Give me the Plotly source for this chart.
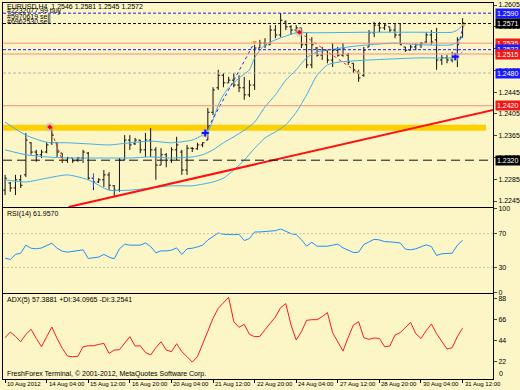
import plotly.graph_objects as go
from plotly.subplots import make_subplots

# ---------------- data ----------------
bar_idx = list(range(89))
opens = [1.2265,1.2278,1.2269,1.2284,1.2293,1.2352,1.2335,1.2330,1.2335,1.2352,
         1.2352,1.2333,1.2320,1.2324,1.2320,1.2324,1.2333,1.2287,1.2280,1.2284,
         1.2293,1.2273,1.2265,1.2320,1.2357,1.2350,1.2357,1.2339,1.2357,1.2339,
         1.2311,1.2330,1.2320,1.2339,1.2335,1.2302,1.2342,1.2341,1.2348,1.2357,
         1.2408,1.2453,1.2476,1.2462,1.2467,1.2458,1.2453,1.2440,1.2458,1.2526,
         1.2535,1.2532,1.2559,1.2550,1.2574,1.2565,1.2559,1.2563,1.2532,1.2495,
         1.2526,1.2513,1.2522,1.2504,1.2522,1.2513,1.2513,1.2498,1.2482,1.2476,
         1.2528,1.2554,1.2568,1.2563,1.2565,1.2559,1.2550,1.2528,1.2522,1.2528,
         1.2532,1.2537,1.2550,1.2541,1.2504,1.2508,1.2504,1.2513,1.2546]
highs = [1.2293,1.2280,1.2293,1.2293,1.2370,1.2353,1.2339,1.2339,1.2353,1.2381,
         1.2353,1.2333,1.2326,1.2324,1.2326,1.2339,1.2335,1.2287,1.2287,1.2302,
         1.2298,1.2274,1.2324,1.2366,1.2366,1.2361,1.2357,1.2370,1.2379,1.2344,
         1.2342,1.2333,1.2344,1.2363,1.2339,1.2348,1.2344,1.2352,1.2353,1.2416,
         1.2454,1.2486,1.2480,1.2473,1.2480,1.2476,1.2473,1.2467,1.2532,1.2541,
         1.2544,1.2568,1.2568,1.2590,1.2577,1.2568,1.2568,1.2563,1.2554,1.2546,
         1.2528,1.2528,1.2522,1.2535,1.2528,1.2535,1.2517,1.2498,1.2486,1.2528,
         1.2559,1.2574,1.2574,1.2572,1.2565,1.2572,1.2572,1.2528,1.2532,1.2535,
         1.2537,1.2555,1.2559,1.2563,1.2513,1.2513,1.2519,1.2546,1.2581]
lows = [1.2256,1.2262,1.2256,1.2269,1.2289,1.2330,1.2317,1.2324,1.2333,1.2348,
        1.2326,1.2315,1.2315,1.2315,1.2317,1.2315,1.2284,1.2265,1.2278,1.2271,
        1.2265,1.2252,1.2262,1.2320,1.2339,1.2348,1.2333,1.2326,1.2326,1.2284,
        1.2311,1.2307,1.2315,1.2320,1.2293,1.2293,1.2335,1.2339,1.2344,1.2357,
        1.2403,1.2449,1.2454,1.2462,1.2454,1.2445,1.2431,1.2436,1.2449,1.2526,
        1.2526,1.2532,1.2544,1.2546,1.2559,1.2550,1.2554,1.2526,1.2489,1.2489,
        1.2510,1.2504,1.2498,1.2491,1.2510,1.2510,1.2495,1.2480,1.2464,1.2473,
        1.2528,1.2546,1.2555,1.2559,1.2555,1.2544,1.2532,1.2519,1.2522,1.2522,
        1.2526,1.2535,1.2532,1.2486,1.2495,1.2498,1.2500,1.2491,1.2545]
closes = [1.2287,1.2269,1.2284,1.2274,1.2357,1.2335,1.2330,1.2335,1.2348,1.2366,
          1.2335,1.2320,1.2324,1.2319,1.2324,1.2335,1.2287,1.2280,1.2284,1.2293,
          1.2274,1.2265,1.2320,1.2357,1.2348,1.2357,1.2339,1.2357,1.2339,1.2311,
          1.2330,1.2320,1.2339,1.2348,1.2302,1.2342,1.2341,1.2348,1.2352,1.2408,
          1.2449,1.2476,1.2462,1.2467,1.2458,1.2453,1.2440,1.2458,1.2526,1.2535,
          1.2532,1.2559,1.2550,1.2577,1.2565,1.2559,1.2563,1.2532,1.2495,1.2532,
          1.2513,1.2522,1.2504,1.2522,1.2513,1.2526,1.2500,1.2486,1.2471,1.2522,
          1.2554,1.2568,1.2563,1.2568,1.2559,1.2550,1.2532,1.2522,1.2528,1.2532,
          1.2535,1.2550,1.2537,1.2504,1.2508,1.2504,1.2513,1.2541,1.2572]

bb_up_idx = [0,4,8,12,16,20,24,28,32,36,38,39,40,41,42,43,44,45,46,47,48,49,50,52,54,56,60,70,80,86,87,88]
bb_upper = [1.2390,1.2366,1.2353,1.2352,1.2350,1.2348,1.2352,1.2355,1.2352,1.2357,1.2366,1.2372,
            1.2394,1.2421,1.2440,1.2453,1.2462,1.2471,1.2478,1.2486,1.2508,1.2522,1.2532,1.2541,
            1.2548,1.2554,1.2554,1.2555,1.2555,1.2555,1.2559,1.2568]
bb_mid_idx = [0,4,8,12,16,20,24,28,32,36,38,40,42,44,46,48,50,52,54,56,58,60,62,66,70,75,80,86,87,88]
bb_middle = [1.2339,1.2330,1.2326,1.2324,1.2324,1.2324,1.2324,1.2326,1.2324,1.2326,1.2330,1.2339,
             1.2352,1.2363,1.2375,1.2390,1.2418,1.2440,1.2467,1.2486,1.2508,1.2519,1.2522,1.2528,
             1.2532,1.2535,1.2532,1.2532,1.2537,1.2546]
bb_low_idx = [0,4,8,12,16,20,24,28,32,36,38,40,42,44,46,48,50,52,54,56,58,60,62,64,70,80,86,87,88]
bb_lower = [1.2284,1.2280,1.2287,1.2293,1.2284,1.2265,1.2265,1.2269,1.2273,1.2273,1.2276,1.2280,
            1.2287,1.2302,1.2320,1.2342,1.2361,1.2372,1.2385,1.2408,1.2440,1.2476,1.2495,1.2500,
            1.2504,1.2508,1.2508,1.2511,1.2519]

rsi = [41.0,39.4,45.3,46.9,56.3,52.7,52.0,53.0,55.9,58.6,
       52.7,49.2,48.0,49.2,50.0,50.8,40.6,41.0,42.2,45.3,
       42.2,40.2,52.0,57.5,56.3,56.3,56.3,59.0,54.7,47.3,
       49.6,49.6,50.4,53.1,45.3,52.0,52.7,54.3,56.3,62.5,
       66.5,70.8,69.2,68.8,68.8,69.2,61.8,64.1,72.0,72.0,
       72.7,73.5,73.5,75.5,72.7,70.0,68.8,62.9,55.1,59.8,
       55.1,54.7,55.1,56.3,57.5,53.1,50.0,47.6,48.0,57.1,
       60.2,63.3,62.5,60.6,60.2,59.8,59.0,51.6,50.8,52.0,
       53.9,56.7,54.7,44.1,46.1,46.1,46.9,56.3,61.957]
adx = [47.4,53.4,48.8,43.2,50.9,56.2,46.7,38.0,48.5,58.6,
       46.7,36.3,28.2,27.5,27.9,38.0,39.0,39.0,40.4,41.5,
       31.0,34.5,34.9,42.2,48.5,38.7,39.0,32.0,29.3,37.0,
       43.2,34.5,32.8,41.1,32.8,27.5,21.9,27.5,41.5,55.5,
       67.7,78.2,84.2,89.7,64.2,58.3,61.4,50.9,48.5,48.8,
       55.8,62.8,69.1,78.9,83.1,60.7,45.0,53.7,65.6,66.3,
       66.3,69.5,73.7,52.7,43.2,33.5,47.8,60.7,64.2,47.4,
       45.7,47.1,46.7,38.0,38.7,50.2,52.7,57.9,63.5,51.6,
       46.7,54.8,61.8,51.6,43.2,35.6,37.0,48.5,57.388]

date_tick_idx = [0, 8, 16, 24, 32, 40, 48, 56, 64, 72, 80, 88]
date_tick_text = ["10 Aug 2012", "14 Aug 04:00", "15 Aug 12:00", "16 Aug 20:00",
                  "20 Aug 04:00", "21 Aug 12:00", "22 Aug 20:00", "24 Aug 04:00",
                  "27 Aug 12:00", "28 Aug 20:00", "30 Aug 04:00", "31 Aug 12:00"]
price_ticks = [1.2605, 1.2565, 1.2525, 1.2485, 1.2445, 1.2405, 1.2365, 1.2325, 1.2285, 1.2245]
rsi_ticks = [0, 30, 70, 100]
adx_ticks = [22, 44, 66, 88]

buy_order_price = 1.2590
buy_order_label = "#2232077.99 buy"
sell_order_price = 1.2571
sell_order_labels = ["#5970619 sell", "#6962530 sell"]
resistance_prices = [1.2535, 1.2515, 1.2420]
blue_level = 1.2523
grey_level = 1.2480
support_level = 1.2320
zone_low, zone_high, zone_end_idx = 1.2374, 1.2385, 92.5
trend_idx = [12.2, 94.6]
trend_price = [1.2234, 1.2414]

trades_sell = [([8.6, 11.0], [1.2381, 1.2320]), ([56.6, 68.0], [1.2555, 1.2480])]
trades_buy = [([38.5, 48.0], [1.2370, 1.2537]), ([86.6, 88.2], [1.2510, 1.2568])]
pending_mark_idx = [17.0, 17.0]
pending_mark_price = [1.2296, 1.2270]

header = "EURUSD,H4  1.2546 1.2581 1.2545 1.2572"
rsi_title = "RSI(14) 61.9570"
adx_title = "ADX(5) 57.3881 +DI:34.0965 -DI:3.2541"
copyright_text = "FreshForex Terminal, \u00a9 2001-2012, MetaQuotes Software Corp."

# ---------------- figure ----------------
BG = "#fcf5c6"
FONT = "Liberation Sans, Arial, sans-serif"
fig = make_subplots(rows=3, cols=1, shared_xaxes=True, vertical_spacing=0.0)

fig.add_trace(go.Ohlc(x=bar_idx, open=opens, high=highs, low=lows, close=closes,
                      increasing=dict(line=dict(color="#111111", width=1)),
                      decreasing=dict(line=dict(color="#111111", width=1)),
                      tickwidth=0.35, showlegend=False, hoverinfo="skip"), row=1, col=1)

band_col = "#3cb0ee"
for xs, ys in [(bb_up_idx, bb_upper), (bb_mid_idx, bb_middle), (bb_low_idx, bb_lower)]:
    fig.add_trace(go.Scatter(x=xs, y=ys, mode="lines", line=dict(color=band_col, width=1, shape="spline", smoothing=0.6),
                             showlegend=False, hoverinfo="skip"), row=1, col=1)

fig.add_trace(go.Scatter(x=trend_idx, y=trend_price, mode="lines", line=dict(color="#ff1010", width=2),
                         showlegend=False, hoverinfo="skip"), row=1, col=1)
fig.add_trace(go.Scatter(x=pending_mark_idx, y=pending_mark_price, mode="lines", line=dict(color="#3050ff", width=1),
                         showlegend=False, hoverinfo="skip"), row=1, col=1)

for xs, ys in trades_sell:
    fig.add_trace(go.Scatter(x=xs, y=ys, mode="lines", line=dict(color="#ff2020", width=1, dash="dot"),
                             showlegend=False, hoverinfo="skip"), row=1, col=1)
    fig.add_trace(go.Scatter(x=[xs[0]], y=[ys[0]], mode="markers",
                             marker=dict(size=9, color="rgba(190,190,190,0.55)"), showlegend=False, hoverinfo="skip"), row=1, col=1)
    fig.add_trace(go.Scatter(x=[xs[0]], y=[ys[0]], mode="markers",
                             marker=dict(size=4, color="#ff0000", symbol="diamond"), showlegend=False, hoverinfo="skip"), row=1, col=1)
    fig.add_trace(go.Scatter(x=[xs[1]], y=[ys[1]], mode="markers",
                             marker=dict(size=4, color="#f0a020", symbol="triangle-up"), showlegend=False, hoverinfo="skip"), row=1, col=1)
for xs, ys in trades_buy:
    fig.add_trace(go.Scatter(x=xs, y=ys, mode="lines", line=dict(color="#2020ff", width=1, dash="dot"),
                             showlegend=False, hoverinfo="skip"), row=1, col=1)
    fig.add_trace(go.Scatter(x=[xs[0]], y=[ys[0]], mode="markers",
                             marker=dict(size=9, color="rgba(190,190,190,0.55)"), showlegend=False, hoverinfo="skip"), row=1, col=1)
    fig.add_trace(go.Scatter(x=[xs[0]], y=[ys[0]], mode="markers",
                             marker=dict(size=5, color="#1010ff", symbol="cross-thin", line=dict(color="#1010ff", width=2)),
                             showlegend=False, hoverinfo="skip"), row=1, col=1)
    fig.add_trace(go.Scatter(x=[xs[1]], y=[ys[1]], mode="markers",
                             marker=dict(size=4, color="#f0a020", symbol="triangle-down"), showlegend=False, hoverinfo="skip"), row=1, col=1)

fig.add_trace(go.Scatter(x=bar_idx, y=rsi, mode="lines", line=dict(color="#1e8fff", width=1),
                         showlegend=False, hoverinfo="skip"), row=2, col=1)
fig.add_trace(go.Scatter(x=bar_idx, y=adx, mode="lines", line=dict(color="#ff1a1a", width=1),
                         showlegend=False, hoverinfo="skip"), row=3, col=1)

# horizontal levels
def hline(y, color, dash="solid", width=1, ref="y"):
    fig.add_shape(type="line", xref="x domain", yref=ref, x0=0, x1=1, y0=y, y1=y,
                  line=dict(color=color, width=width, dash=dash))

fig.add_shape(type="rect", xref="x", yref="y", x0=-1, x1=zone_end_idx, y0=zone_low, y1=zone_high,
              fillcolor="#ffd000", line=dict(width=0), layer="below")
for p in resistance_prices:
    hline(p, "#f4907a")
hline(buy_order_price, "#1a1aff", "3px,2px")
hline(blue_level, "#1a1aff", "3px,2px")
hline(sell_order_price, "#111111", "3px,2px")
hline(grey_level, "#b4b4b4", "3px,2px")
hline(support_level, "#111111", "9px,5px")
for lv in (30, 70):
    fig.add_shape(type="line", xref="x2 domain", yref="y2", x0=0, x1=1, y0=lv, y1=lv,
                  line=dict(color="#c8c2a8", width=1, dash="2px,2px"))

# axes
x_range = [-0.4, 93.85]
axis_common = dict(showline=True, mirror=True, linecolor="#000000", linewidth=1, showgrid=False, zeroline=False)
for i in (1, 2, 3):
    fig.update_xaxes(range=x_range, showticklabels=False, ticks="", row=i, col=1, **axis_common)
fig.update_xaxes(ticks="outside", ticklen=3, tickcolor="#000", tickvals=date_tick_idx, row=3, col=1)
fig.update_layout(xaxis_rangeslider_visible=False)

tickfont = dict(family=FONT, size=7, color="#000000")
fig.update_yaxes(domain=[0.4574, 1.0], range=[1.22340, 1.26087], side="right", tickvals=price_ticks,
                 ticktext=[f"{v:.4f}" for v in price_ticks], ticks="outside", ticklen=3, tickfont=tickfont,
                 row=1, col=1, **axis_common)
fig.update_yaxes(domain=[0.2287, 0.4548], range=[-0.4, 100.4], side="right", tickvals=rsi_ticks,
                 ticks="outside", ticklen=3, tickfont=tickfont, row=2, col=1, **axis_common)
fig.update_yaxes(domain=[0.0, 0.2261], range=[4.2, 93.2], side="right", tickvals=adx_ticks,
                 ticks="outside", ticklen=3, tickfont=tickfont, row=3, col=1, **axis_common)

ann = []
def text(x, y, s, xref="paper", yref="paper", size=7, color="#000", **kw):
    ann.append(dict(x=x, y=y, xref=xref, yref=yref, text=s, showarrow=False, xanchor="left",
                    yanchor="middle", font=dict(family=FONT, size=size, color=color), **kw))

text(0.004, 0.992, header)
text(0.004, 0.9787, buy_order_label)
text(0.004, 0.9628, sell_order_labels[0])
text(0.004, 0.9495, sell_order_labels[1])
text(0.004, 0.4388, rsi_title)
text(0.004, 0.2101, adx_title)
text(0.004, 0.0133, copyright_text)
text(1.008, 0.0133, "0")
for i, t in zip(date_tick_idx, date_tick_text):
    text(i, -0.0135, t, xref="x3", size=6)

boxes = [(buy_order_price, "#1a1aff"), (sell_order_price, "#000000"), (resistance_prices[0], "#f01818"),
         (blue_level, "#1a1aff"), (resistance_prices[1], "#f01818"), (grey_level, "#1a1aff"),
         (resistance_prices[2], "#f01818"), (support_level, "#000000")]
for p, c in boxes:
    text(1.0045, p, f"{p:.4f}", yref="y", color="#ffffff", bgcolor=c, borderpad=1)

fig.update_layout(width=520, height=390, margin=dict(l=3, r=27, t=3, b=11, autoexpand=False),
                  paper_bgcolor=BG, plot_bgcolor=BG, annotations=ann, showlegend=False,
                  font=dict(family=FONT, size=7, color="#000"))

fig.write_html("out.html", config={"displayModeBar": False},
               post_script="document.body.style.margin='0';document.body.style.overflow='hidden';document.body.style.background='" + BG + "';")
